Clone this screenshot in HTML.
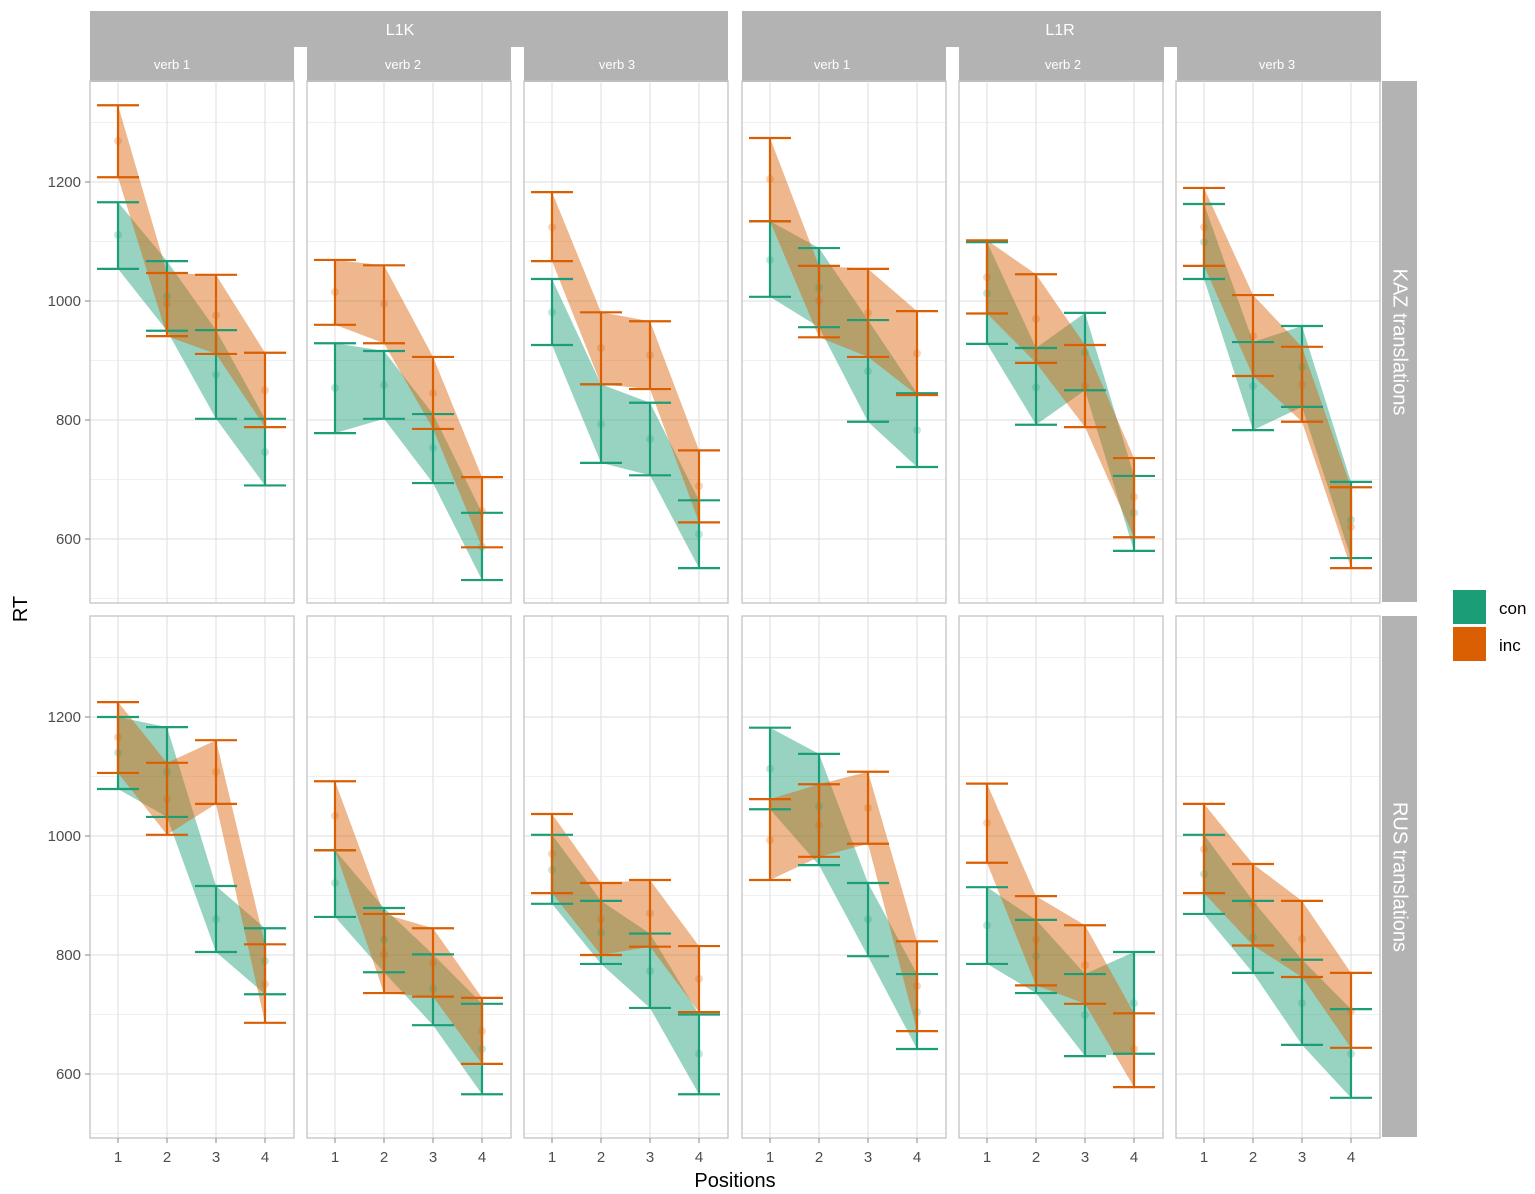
<!DOCTYPE html>
<html>
<head>
<meta charset="utf-8">
<style>
html,body{margin:0;padding:0;background:#fff;}
svg{display:block;font-family:"Liberation Sans",sans-serif;}
</style>
</head>
<body>
<svg id="chart" width="1535" height="1194" viewBox="0 0 1535 1194" xmlns="http://www.w3.org/2000/svg"></svg>
<script>
// Panel order: row 0 (KAZ translations) cols L1K verb1..3, L1R verb1..3; row 1 (RUS translations) same.
const positions = [1, 2, 3, 4];
const yTicks = [600, 800, 1000, 1200];
const yMinor = [500, 700, 900, 1100, 1300];
const colLabels = ["verb 1", "verb 2", "verb 3", "verb 1", "verb 2", "verb 3"];
const groupLabels = ["L1K", "L1R"];
const rowLabels = ["KAZ translations", "RUS translations"];
const seriesNames = ["con", "inc"];

const conMean = [
  [1111,1008,876,746],[854,859,753,587],[981,793,768,608],[1069,1022,882,783],[1013,855,914,644],[1099,857,889,632],
  [1140,1108,860,790],[921,826,743,642],[943,837,773,634],[1113,1050,860,704],[850,798,699,719],[936,830,719,634]
];
const conLo = [
  [1054,950,802,690],[778,802,694,531],[926,728,707,551],[1007,956,797,721],[928,792,850,580],[1037,783,822,568],
  [1079,1032,805,734],[864,771,682,566],[886,785,711,566],[1045,951,798,642],[785,736,630,634],[869,770,649,560]
];
const conHi = [
  [1166,1067,951,802],[929,916,810,644],[1037,860,829,665],[1134,1089,968,845],[1099,921,980,706],[1163,931,958,696],
  [1200,1183,916,845],[976,879,801,718],[1002,891,836,700],[1182,1138,921,768],[914,859,768,805],[1002,891,792,709]
];
const incMean = [
  [1269,995,976,850],[1015,995,845,647],[1124,921,909,689],[1205,1000,980,912],[1040,970,857,671],[1124,941,860,620],
  [1166,1062,1108,751],[1034,801,787,672],[970,860,870,760],[993,1018,1047,748],[1022,826,783,642],[978,886,827,706]
];
const incLo = [
  [1208,941,911,788],[960,929,785,586],[1067,860,852,628],[1134,939,906,842],[979,896,788,603],[1059,874,797,551],
  [1106,1002,1054,686],[976,736,730,617],[904,800,814,704],[926,965,987,672],[955,749,718,578],[904,816,763,644]
];
const incHi = [
  [1329,1047,1044,913],[1069,1060,906,704],[1183,981,966,749],[1274,1059,1054,983],[1102,1045,926,736],[1190,1010,923,687],
  [1225,1123,1161,818],[1092,869,845,728],[1037,921,926,815],[1062,1087,1108,823],[1088,899,850,702],[1054,953,891,770]
];

const NS = "http://www.w3.org/2000/svg";
const svg = document.getElementById("chart");
const colLeft = [90, 307, 524, 742, 959, 1176];
const panelW = 204;
const rowTop = [81, 616];
const panelH = 522;
const colors = {con: "#1b9e77", inc: "#d95f02"};
const verbLabelX = [172, 403, 617, 832, 1063, 1277];

function mk(tag, attrs, parent) {
  const e = document.createElementNS(NS, tag);
  for (const k in attrs) e.setAttribute(k, attrs[k]);
  (parent || svg).appendChild(e);
  return e;
}
function xScale(col, p) { return colLeft[col] + 28 + (p - 1) * 49; }
function yScale(row, v) { return rowTop[row] + 101 + (1200 - v) * 0.595; }

const topStripL = mk("rect", {x: 90, y: 11, width: 638, height: 71, fill: "#b3b3b3"});


const topStripR = mk("rect", {x: 742, y: 11, width: 639, height: 71, fill: "#b3b3b3"});


[0, 1].forEach(g => {
  const t = mk("text", {x: g === 0 ? 400 : 1060, y: 35, "text-anchor": "middle", fill: "#fff", "font-size": 16});
  t.textContent = groupLabels[g];
  
  
});
[294, 511, 946, 1164].forEach(x => {
  const gap = mk("rect", {x: x, y: 47, width: 13, height: 35, fill: "#fff"});
  
  
});
colLabels.forEach((lab, c) => {
  const t = mk("text", {x: verbLabelX[c], y: 69, "text-anchor": "middle", fill: "#fff", "font-size": 13});
  t.textContent = lab;
  
  
});
rowLabels.forEach((lab, r) => {
  const s = mk("rect", {x: 1382, y: rowTop[r], width: 35, height: panelH - 1, fill: "#b3b3b3"});
  
  
  const cy = rowTop[r] + panelH / 2;
  const t = mk("text", {x: 1399, y: cy, "text-anchor": "middle", fill: "#fff", "font-size": 20, transform: "rotate(90 1399 " + cy + ")", "dominant-baseline": "middle"});
  t.textContent = lab;
  
  
});

for (let r = 0; r < 2; r++) {
  for (let c = 0; c < 6; c++) {
    const idx = r * 6 + c;
    const g = mk("g", {});
    
    
    const L = colLeft[c], T = rowTop[r];
    yMinor.forEach(v => {
      const y = yScale(r, v);
      if (y > T && y < T + panelH) mk("line", {x1: L, x2: L + panelW, y1: y, y2: y, stroke: "#f0f0f0", "stroke-width": 1}, g);
    });
    yTicks.forEach(v => {
      const y = yScale(r, v);
      mk("line", {x1: L, x2: L + panelW, y1: y, y2: y, stroke: "#e3e3e3", "stroke-width": 1.2}, g);
    });
    positions.forEach(p => {
      const x = xScale(c, p);
      mk("line", {x1: x, x2: x, y1: T, y2: T + panelH, stroke: "#e3e3e3", "stroke-width": 1.2}, g);
    });
    const series = [
      {name: "con", m: conMean[idx], lo: conLo[idx], hi: conHi[idx]},
      {name: "inc", m: incMean[idx], lo: incLo[idx], hi: incHi[idx]}
    ];
    series.forEach(s => {
      let pts = positions.map((p, i) => xScale(c, p) + "," + yScale(r, s.hi[i]));
      pts = pts.concat(positions.slice().reverse().map((p, j) => { const i = 3 - j; return xScale(c, p) + "," + yScale(r, s.lo[i]); }));
      const rib = mk("polygon", {points: pts.join(" "), fill: colors[s.name], "fill-opacity": 0.45}, g);
      
      
    });
    series.forEach(s => {
      positions.forEach((p, i) => {
        const x = xScale(c, p), yh = yScale(r, s.hi[i]), yl = yScale(r, s.lo[i]);
        const eb = mk("g", {stroke: colors[s.name], "stroke-width": 2.2}, g);
        
        
        mk("line", {x1: x, x2: x, y1: yh, y2: yl}, eb);
        mk("line", {x1: x - 21, x2: x + 21, y1: yh, y2: yh}, eb);
        mk("line", {x1: x - 21, x2: x + 21, y1: yl, y2: yl}, eb);
        const pt = mk("circle", {cx: x, cy: yScale(r, s.m[i]), r: 4, fill: colors[s.name], "fill-opacity": 0.25}, g);
        
        
      });
    });
    mk("rect", {x: L, y: T, width: panelW, height: panelH, fill: "none", stroke: "#c4c4c4", "stroke-width": 1.3}, g);
    if (c === 0) {
      yTicks.forEach(v => {
        const y = yScale(r, v);
        mk("line", {x1: L - 5, x2: L, y1: y, y2: y, stroke: "#999", "stroke-width": 1.2}, g);
        const t = mk("text", {x: L - 9, y: y + 5, "text-anchor": "end", fill: "#4d4d4d", "font-size": 15}, g);
        t.textContent = v;
        
        
      });
    }
    if (r === 1) {
      positions.forEach(p => {
        const x = xScale(c, p);
        mk("line", {x1: x, x2: x, y1: T + panelH, y2: T + panelH + 5, stroke: "#999", "stroke-width": 1.2}, g);
        const t = mk("text", {x: x, y: T + panelH + 24, "text-anchor": "middle", fill: "#4d4d4d", "font-size": 15}, g);
        t.textContent = p;
        
        
      });
    }
  }
}

const xt = mk("text", {x: 735, y: 1187, "text-anchor": "middle", fill: "#000", "font-size": 20});
xt.textContent = "Positions";


const yt = mk("text", {x: 27, y: 609, "text-anchor": "middle", fill: "#000", "font-size": 20, transform: "rotate(-90 27 609)"});
yt.textContent = "RT";



seriesNames.forEach((n, i) => {
  const lg = mk("g", {});
  
  
  mk("rect", {x: 1453, y: 590 + i * 37, width: 33, height: 34, fill: colors[n]}, lg);
  const t = mk("text", {x: 1499, y: 614 + i * 37, fill: "#000", "font-size": 17}, lg);
  t.textContent = n;
});
</script>
</body>
</html>
